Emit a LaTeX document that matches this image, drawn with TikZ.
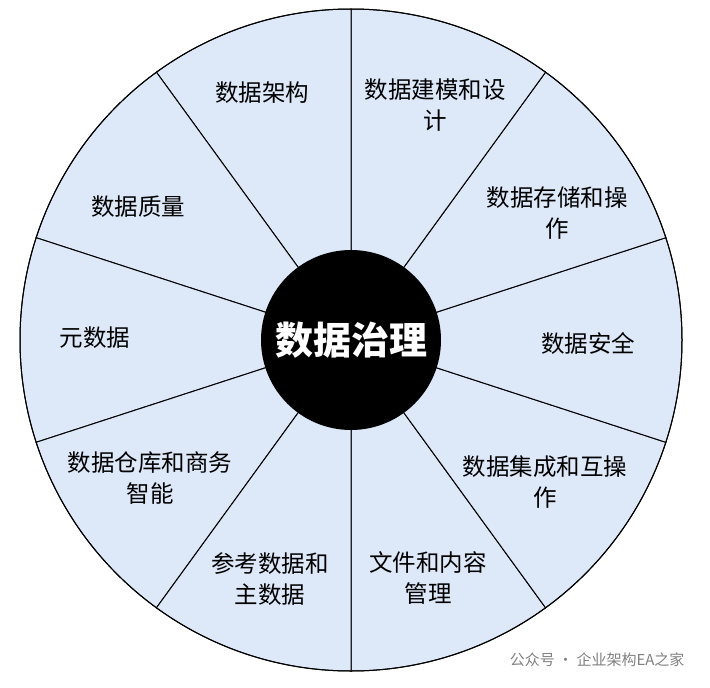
\documentclass[tikz,border=0pt]{standalone}
\usepackage{fontspec}
\setmainfont{Noto Sans CJK SC}
\begin{document}
\begin{tikzpicture}[x=1pt,y=-1pt,
  lbl/.style={align=center,font=\fontsize{23.5}{31}\selectfont,inner sep=0pt},
  seg/.style={fill=segblue,draw=black,line width=1pt}]
\definecolor{segblue}{HTML}{DDE8F8}
\useasboundingbox (0,0) rectangle (710,688);
\coordinate (c) at (351,340);
\foreach \a in {90,54,18,-18,-54,-90,-126,-162,162,126}{
  \draw[seg] (c) -- ++(\a:331) arc[start angle=\a,delta angle=-36,radius=331] -- cycle;
}
\draw[line width=1pt] (c) circle[radius=331];
\node[circle,fill=black,minimum size=180pt,inner sep=0pt,text=white,font=\fontsize{38}{40}\selectfont\bfseries] (hub) at (c) {数据治理};
\node[lbl] (l1) at (262,93) {数据架构};
\node[lbl] (l2) at (435,105) {数据建模和设\\计};
\node[lbl] (l3) at (557,213) {数据存储和操\\作};
\node[lbl] (l4) at (588,343) {数据安全};
\node[lbl] (l5) at (545,482) {数据集成和互操\\作};
\node[lbl] (l6) at (428,578) {文件和内容\\管理};
\node[lbl] (l7) at (270,579) {参考数据和\\主数据};
\node[lbl] (l8) at (150,478) {数据仓库和商务\\智能};
\node[lbl] (l9) at (95,338) {元数据};
\node[lbl] (l10) at (138,207) {数据质量};
\node[font=\fontsize{15}{16}\selectfont,text=gray,anchor=east] (wm) at (688,660) {公众号 · 企业架构EA之家};
\end{tikzpicture}
\end{document}
